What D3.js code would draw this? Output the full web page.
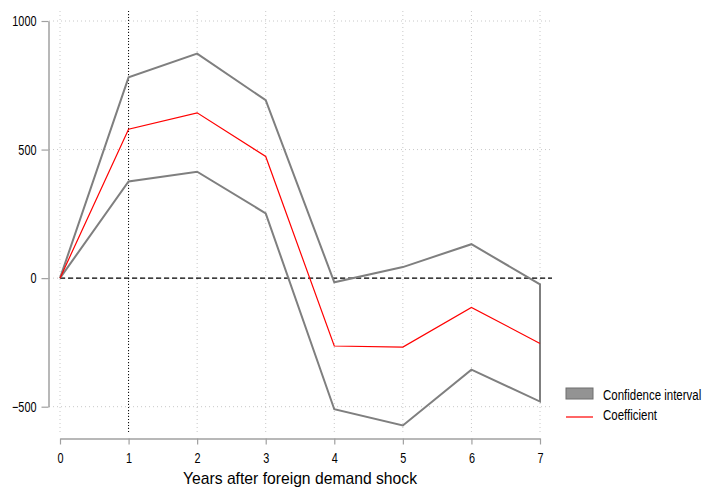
<!DOCTYPE html>
<html>
<head>
<meta charset="utf-8">
<script src="https://d3js.org/d3.v7.min.js"></script>
<style>
body { margin: 0; background: #fff; }
svg { display: block; font-family: "Liberation Sans", Arial, sans-serif; }
</style>
</head>
<body>
<svg id="chart" width="704" height="488"></svg>
<script>
// values
var years = [0, 1, 2, 3, 4, 5, 6, 7];
var coef = [0, 579, 643, 473, -264, -268, -114, -254];
var ciUpper = [0, 781, 873, 692, -16, 43, 132, -24];
var ciLower = [0, 376, 414, 252, -510, -573, -356, -480];
var yTicks = [-500, 0, 500, 1000];
var xLabel = "Years after foreign demand shock";
var legendItems = ["Confidence interval", "Coefficient"];

var svg = d3.select("#chart");

var x = d3.scaleLinear().domain([0, 7]).range([60, 540]);
var y = d3.scaleLinear().domain([-500, 1000]).range([406.7, 21]);

// the original uses a narrow font, squeeze the text to match
function squeeze(sel, k) {
    sel.each(function() {
        var w = this.getComputedTextLength();
        d3.select(this).attr("textLength", w * k).attr("lengthAdjust", "spacingAndGlyphs");
    });
}

// grid lines
var grid = svg.append("g");
grid.selectAll(".hg").data(yTicks).enter().append("line")
    .attr("x1", 49).attr("x2", 552)
    .attr("y1", d => y(d)).attr("y2", d => y(d))
    .attr("stroke", "#c8c8c8").attr("stroke-dasharray", "1,3");
grid.selectAll(".vg").data(years).enter().append("line")
    .attr("x1", d => x(d)).attr("x2", d => x(d))
    .attr("y1", 11).attr("y2", 433)
    .attr("stroke", "#c8c8c8").attr("stroke-dasharray", "1,3");

// reference lines
svg.append("line")
    .attr("x1", x(1)).attr("x2", x(1)).attr("y1", 11).attr("y2", 433)
    .attr("stroke", "#000").attr("stroke-dasharray", "1,2");
svg.append("line")
    .attr("x1", x(0)).attr("x2", 552).attr("y1", y(0)).attr("y2", y(0))
    .attr("stroke", "#000").attr("stroke-width", 1.2).attr("stroke-dasharray", "5,3");

// confidence band outline
var band = years.map((d, i) => [x(d), y(ciUpper[i])])
    .concat(years.slice().reverse().map((d) => [x(d), y(ciLower[d])]));
svg.append("path")
    .attr("d", d3.line()(band) + "Z")
    .attr("fill", "none").attr("stroke", "#7f7f7f").attr("stroke-width", 2)
    .attr("stroke-linejoin", "miter");

// coefficient line
svg.append("path")
    .attr("d", d3.line().x((d, i) => x(years[i])).y(d => y(d))(coef))
    .attr("fill", "none").attr("stroke", "#ff0000").attr("stroke-width", 1.2);

// axes
var yAxis = svg.append("g").attr("transform", "translate(48.5,0)")
    .call(d3.axisLeft(y).tickValues(yTicks).tickFormat(d3.format("d"))
        .tickSize(7).tickSizeOuter(0).tickPadding(5));
var xAxis = svg.append("g").attr("transform", "translate(0,438.5)")
    .call(d3.axisBottom(x).tickValues(years).tickFormat(d3.format("d"))
        .tickSize(6).tickSizeOuter(0).tickPadding(8));
[yAxis, xAxis].forEach(function(ax) {
    ax.select(".domain").attr("stroke", "#a0a0a0").attr("stroke-width", 1.5);
    ax.selectAll(".tick line").attr("stroke", "#a0a0a0").attr("stroke-width", 1.2);
    ax.selectAll("text").attr("fill", "#000").attr("font-size", 14.5)
        .attr("font-family", "\"Liberation Sans\", Arial, sans-serif");
    squeeze(ax.selectAll("text"), 0.75);
});

// axis title
svg.append("text")
    .attr("x", (x(0) + x(7)) / 2).attr("y", 484)
    .attr("text-anchor", "middle").attr("font-size", 15.7)
    .text(xLabel);

// legend
var legend = svg.append("g");
legend.append("rect")
    .attr("x", 566).attr("y", 388).attr("width", 27).attr("height", 11)
    .attr("fill", "#939393").attr("stroke", "#6e6e6e");
legend.append("line")
    .attr("x1", 566).attr("x2", 593).attr("y1", 417).attr("y2", 417)
    .attr("stroke", "#ff0000").attr("stroke-width", 1.2);
legend.selectAll("text").data(legendItems).enter().append("text")
    .attr("transform", (d, i) => "translate(603," + (400 + i * 20) + ") scale(0.82,1)")
    .attr("font-size", 14)
    .text(d => d);
</script>
</body>
</html>
